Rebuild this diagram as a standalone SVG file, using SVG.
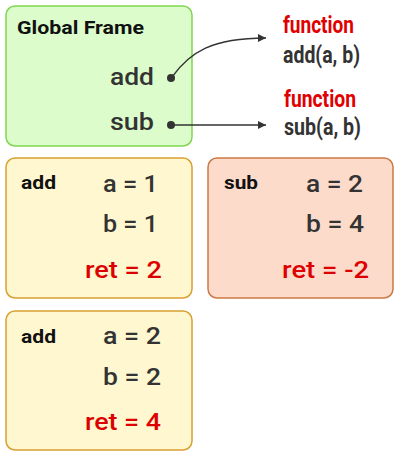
<svg xmlns="http://www.w3.org/2000/svg" width="394" height="451" viewBox="0 0 394 451">
<style>
.title{font-family:Roboto,"Liberation Sans",sans-serif;font-weight:bold;font-size:19px;fill:#111}
.var{font-family:Roboto,"Liberation Sans",sans-serif;font-weight:500;font-size:24px;fill:#333}
.ret{font-family:Roboto,"Liberation Sans",sans-serif;font-weight:500;font-size:24px;fill:#dd0000}
.fn{font-family:Roboto,"Liberation Sans",sans-serif;font-weight:bold;font-size:24px;fill:#e00000}
.sig{font-family:Roboto,"Liberation Sans",sans-serif;font-weight:bold;font-size:24px;fill:#333}
.conn{fill:none;stroke:#333;stroke-width:1.3}
</style>
<defs>
<marker id="arr" viewBox="0 0 10 10" refX="10" refY="5" markerWidth="10" markerHeight="8" markerUnits="userSpaceOnUse" orient="auto">
<path d="M0,0 L10,5 L0,10 z" fill="#333"/>
</marker>
</defs>
<g id="global">
<rect x="6" y="6" width="186" height="140" rx="9" fill="#dcfccc" stroke="#80d650" stroke-width="1.5"/>
<text class="title" x="17" y="34" textLength="127" lengthAdjust="spacingAndGlyphs">Global Frame</text>
<text class="var" x="110" y="85" textLength="44" lengthAdjust="spacingAndGlyphs">add</text>
<text class="var" x="110" y="130" textLength="44" lengthAdjust="spacingAndGlyphs">sub</text>
<circle cx="171" cy="78" r="4" fill="#333"/>
<circle cx="171" cy="125" r="4" fill="#333"/>
</g>
<g id="func-add">
<text class="fn" x="283" y="33" textLength="71" lengthAdjust="spacingAndGlyphs">function</text>
<text class="sig" x="283" y="63" textLength="77" lengthAdjust="spacingAndGlyphs">add(a, b)</text>
</g>
<g id="func-sub">
<text class="fn" x="284" y="107" textLength="72" lengthAdjust="spacingAndGlyphs">function</text>
<text class="sig" x="284" y="135" textLength="77" lengthAdjust="spacingAndGlyphs">sub(a, b)</text>
</g>
<g id="frame-add1">
<rect x="6" y="158" width="186" height="140" rx="9" fill="#fff7cf" stroke="#d9a032" stroke-width="1.5"/>
<text class="title" x="21" y="189" textLength="35" lengthAdjust="spacingAndGlyphs">add</text>
<text class="var" x="103" y="192" textLength="55" lengthAdjust="spacingAndGlyphs">a = 1</text>
<text class="var" x="103" y="232" textLength="55" lengthAdjust="spacingAndGlyphs">b = 1</text>
<text class="ret" x="85" y="278" textLength="77" lengthAdjust="spacingAndGlyphs">ret = 2</text>
</g>
<g id="frame-sub">
<rect x="208" y="158" width="185" height="140" rx="9" fill="#fddbcb" stroke="#cc7a45" stroke-width="1.5"/>
<text class="title" x="224" y="189" textLength="34" lengthAdjust="spacingAndGlyphs">sub</text>
<text class="var" x="306" y="192" textLength="57" lengthAdjust="spacingAndGlyphs">a = 2</text>
<text class="var" x="306" y="232" textLength="58" lengthAdjust="spacingAndGlyphs">b = 4</text>
<text class="ret" x="282" y="278" textLength="87" lengthAdjust="spacingAndGlyphs">ret = -2</text>
</g>
<g id="frame-add2">
<rect x="6" y="311" width="186" height="139" rx="9" fill="#fff7cf" stroke="#d9a032" stroke-width="1.5"/>
<text class="title" x="21" y="343" textLength="35" lengthAdjust="spacingAndGlyphs">add</text>
<text class="var" x="103" y="344" textLength="58" lengthAdjust="spacingAndGlyphs">a = 2</text>
<text class="var" x="103" y="385" textLength="58" lengthAdjust="spacingAndGlyphs">b = 2</text>
<text class="ret" x="85" y="430" textLength="76" lengthAdjust="spacingAndGlyphs">ret = 4</text>
</g>
<g id="connectors">
<path class="conn" d="M172,77 C190,52 212,38 266,38" marker-end="url(#arr)"/>
<path class="conn" d="M171,125 L266,125" marker-end="url(#arr)"/>
</g>
</svg>
